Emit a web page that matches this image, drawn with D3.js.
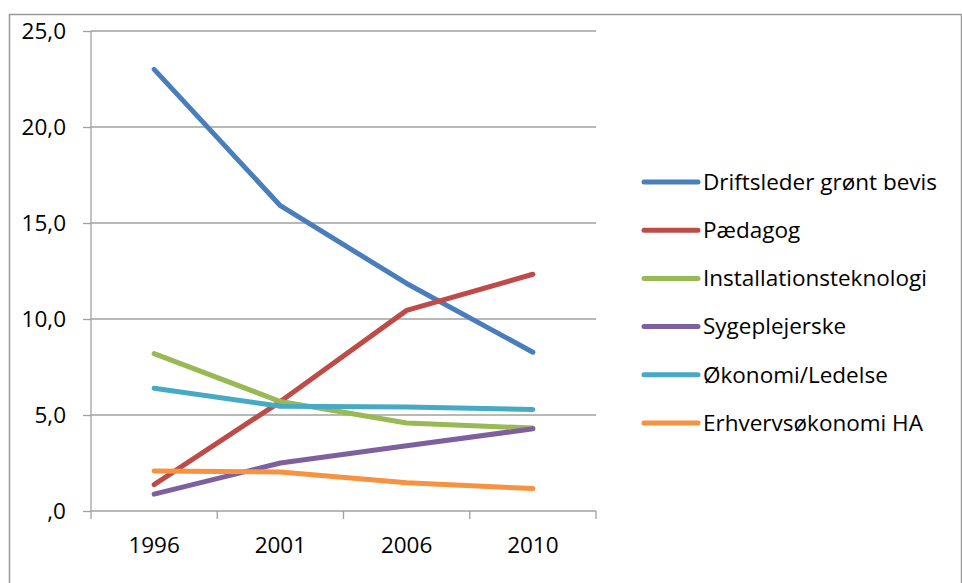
<!DOCTYPE html>
<html>
<head>
<meta charset="utf-8">
<script src="https://cdn.jsdelivr.net/npm/d3@7"></script>
<style>
html,body{margin:0;padding:0;background:#fff;}
svg{display:block;}
text{font-family:"Open Sans","Noto Sans",sans-serif;fill:#000;}
</style>
</head>
<body>
<svg id="chart" width="962" height="583"></svg>
<script>
const categories = ["1996", "2001", "2006", "2010"];
const seriesNames = ["Driftsleder grønt bevis", "Pædagog", "Installationsteknologi", "Sygeplejerske", "Økonomi/Ledelse", "Erhvervsøkonomi HA"];
const driftsleder = [23.0, 15.9, 11.85, 8.27];
const paedagog = [1.37, 5.7, 10.45, 12.33];
const installation = [8.2, 5.7, 4.58, 4.32];
const sygeplejerske = [0.88, 2.5, 3.4, 4.28];
const oekonomi = [6.39, 5.46, 5.42, 5.29];
const erhverv = [2.08, 2.03, 1.47, 1.17];
const yTicks = [0, 5, 10, 15, 20, 25];
const colors = ["#4A7EBB", "#BE4B48", "#98B954", "#7D60A0", "#46AAC5", "#F69240"];

(function () {
const seriesValues = [driftsleder, paedagog, installation, sygeplejerske, oekonomi, erhverv];
const series = seriesNames.map((n, i) => ({name: n, values: seriesValues[i], color: colors[i]}));

const svg = d3.select("#chart");
const pLeft = 91, pRight = 596, pTop = 31, pBottom = 511;
const fs = "22.5px";

// outer border
svg.append("rect").attr("x", 9.5).attr("y", 14.5).attr("width", 952).attr("height", 600)
  .attr("fill", "none").attr("stroke", "#999").attr("stroke-width", 1.5);

const x = d3.scaleBand().domain(categories).range([pLeft, pRight]);
const y = d3.scaleLinear().domain([0, 25]).range([pBottom, pTop]);

const fmt = v => v === 0 ? ",0" : d3.format(".1f")(v).replace(".", ",");

// gridlines
svg.append("g").selectAll("line").data(yTicks.filter(d => d > 0)).join("line")
  .attr("x1", pLeft).attr("x2", pRight)
  .attr("y1", d => y(d)).attr("y2", d => y(d))
  .attr("stroke", "#A0A0A0").attr("stroke-width", 1.3);

// y axis
const yAxis = svg.append("g").attr("transform", `translate(${pLeft},0)`)
  .call(d3.axisLeft(y).tickValues(yTicks).tickFormat(fmt).tickSize(8).tickPadding(17));
yAxis.select(".domain").attr("stroke", "#A0A0A0").attr("stroke-width", 1.3).attr("d", `M0,${pTop}V${pBottom}`);
yAxis.selectAll(".tick line").attr("stroke", "#A0A0A0").attr("stroke-width", 1.3);
yAxis.selectAll(".tick text").style("font-size", fs).attr("fill", "#000");

// x axis
const xAxis = svg.append("g").attr("transform", `translate(0,${pBottom})`)
  .call(d3.axisBottom(x).tickSize(0).tickPadding(26));
xAxis.select(".domain").attr("stroke", "#A0A0A0").attr("stroke-width", 1.3).attr("d", `M${pLeft},0H${pRight}`);
xAxis.selectAll(".tick text").style("font-size", fs).attr("fill", "#000");
const bounds = categories.map(c => x(c)).concat([x(categories[categories.length - 1]) + x.bandwidth()]);
xAxis.append("g").selectAll("line").data(bounds).join("line")
  .attr("x1", d => d).attr("x2", d => d).attr("y1", 0).attr("y2", 8)
  .attr("stroke", "#A0A0A0").attr("stroke-width", 1.3);

// lines
const line = d3.line()
  .x((d, i) => x(categories[i]) + x.bandwidth() / 2)
  .y(d => y(d));
svg.append("g").selectAll("path").data(series).join("path")
  .attr("d", d => line(d.values))
  .attr("fill", "none").attr("stroke", d => d.color).attr("stroke-width", 5)
  .attr("stroke-linecap", "round").attr("stroke-linejoin", "round");

// legend
const lg = svg.append("g");
const rowY = i => 182 + i * 48.2;
lg.selectAll("line").data(series).join("line")
  .attr("x1", 644).attr("x2", 698)
  .attr("y1", (d, i) => rowY(i)).attr("y2", (d, i) => rowY(i))
  .attr("stroke", d => d.color).attr("stroke-width", 5).attr("stroke-linecap", "round");
lg.selectAll("text").data(series).join("text")
  .attr("x", 703).attr("y", (d, i) => rowY(i)).attr("dy", "0.35em")
  .style("font-size", fs).text(d => d.name);
})();
</script>
</body>
</html>
